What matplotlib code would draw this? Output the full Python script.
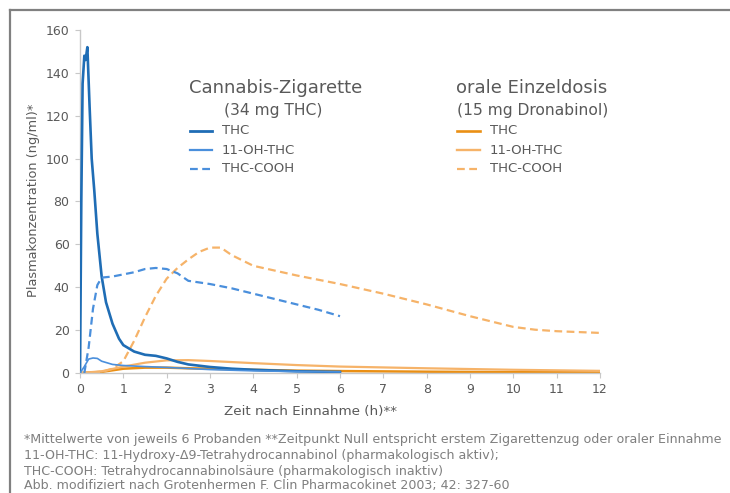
import matplotlib
matplotlib.use("Agg")
import matplotlib.pyplot as plt
from matplotlib.lines import Line2D

# ---- data ----
cig_thc_t = [0, 0.03, 0.06, 0.1, 0.13, 0.17, 0.22, 0.27, 0.33, 0.4, 0.5, 0.6, 0.75, 0.9, 1.0, 1.25, 1.5, 1.75, 2.0, 2.25, 2.5, 3.0, 3.5, 4.0, 5.0, 6.0]
cig_thc_v = [0, 80, 135, 148, 146, 152, 125, 100, 85, 65, 45, 33, 23, 16, 13, 10, 8.5, 8, 6.8, 5.2, 4, 2.8, 2.0, 1.5, 0.8, 0.5]

cig_oh_t = [0, 0.1, 0.2, 0.3, 0.4, 0.5, 0.75, 1.0, 1.5, 2.0, 3.0, 4.0, 5.0, 6.0]
cig_oh_v = [0, 3, 6.5, 7, 6.8, 5.5, 4, 3.5, 3, 2.6, 1.6, 1, 0.7, 0.5]

cig_cooh_t = [0.1, 0.2, 0.3, 0.4, 0.5, 0.75, 1.0, 1.25, 1.5, 1.75, 2.0, 2.25, 2.5, 3.0, 3.5, 4.0, 4.5, 5.0, 5.5, 6.0]
cig_cooh_v = [0, 12, 30, 41, 44.5, 45, 46, 47, 48.5, 49, 48.5, 46.5, 43, 41.5, 39.5, 37, 34.5, 32, 29.5, 26.5]

oral_thc_t = [0, 0.5, 1, 1.5, 2, 2.5, 3, 4, 5, 6, 8, 10, 12]
oral_thc_v = [0, 0.5, 2, 2.5, 2.5, 2.2, 2, 1.5, 1.1, 0.9, 0.6, 0.4, 0.3]

oral_oh_t = [0, 0.5, 1, 1.5, 2, 2.5, 3, 4, 5, 6, 8, 10, 12]
oral_oh_v = [0, 0.8, 3, 4.8, 5.9, 6.0, 5.6, 4.6, 3.7, 3, 2.2, 1.5, 1]

oral_cooh_t = [0, 0.5, 0.75, 1, 1.25, 1.5, 1.75, 2, 2.25, 2.5, 2.75, 3, 3.25, 3.5, 4, 5, 6, 7, 8, 9, 10, 10.5, 11, 12]
oral_cooh_v = [0, 0.5, 2, 5.5, 15, 26, 36, 44, 49, 53, 56.5, 58.5, 58.5, 55, 50, 45.5, 41.5, 37, 32, 26.5, 21.5, 20.2, 19.5, 18.7]

x_ticks = list(range(0, 13))
y_ticks = list(range(0, 161, 20))

# ---- styles ----
DARK_BLUE = "#1f6db5"
BLUE = "#4a8fdc"
DARK_OR = "#ea8f14"
LIGHT_OR = "#f6b369"
GRAY = "#595959"
FOOT = "#7f7f7f"

W, H = 730, 493
plt.rcParams['font.family'] = ['DejaVu Sans']
fig = plt.figure(figsize=(W / 100, H / 100), dpi=100)

def fx(x):
    return x / W

def fy(y):
    return 1 - y / H

ax = fig.add_axes([fx(80), fy(373), (600 - 80) / W, (373 - 30) / H])

dash = (3.5, 2.0)
ax.plot(oral_thc_t, oral_thc_v, color=DARK_OR, lw=1.8, zorder=2)
ax.plot(oral_oh_t, oral_oh_v, color=LIGHT_OR, lw=1.6, zorder=2)
ax.plot(oral_cooh_t, oral_cooh_v, color=LIGHT_OR, lw=1.6, dashes=dash, zorder=2)
ax.plot(cig_thc_t, cig_thc_v, color=DARK_BLUE, lw=1.9, zorder=3)
ax.plot(cig_oh_t, cig_oh_v, color=BLUE, lw=1.2, zorder=3)
ax.plot(cig_cooh_t, cig_cooh_v, color=BLUE, lw=1.6, dashes=dash, zorder=3)

ax.set_xlim(0, 12)
ax.set_ylim(0, 160)
ax.set_xticks(x_ticks)
ax.set_yticks(y_ticks)
for s in ["top", "right"]:
    ax.spines[s].set_visible(False)
for s in ["left", "bottom"]:
    ax.spines[s].set_color("#c8c8c8")
    ax.spines[s].set_linewidth(1.0)
ax.tick_params(colors="#c8c8c8", labelcolor=GRAY, labelsize=9, length=3.5, width=0.8, pad=4)
ax.patch.set_alpha(0)
for lab in ax.get_xticklabels() + ax.get_yticklabels():
    lab.set_color(GRAY)

fig.text(fx(310), fy(412), "Zeit nach Einnahme (h)**", ha="center", va="center", fontsize=9.7, color=GRAY)
fig.text(fx(34), fy(200), "Plasmakonzentration (ng/ml)*", ha="center", va="center", rotation=90, fontsize=9.3, color=GRAY)

# legend blocks
fig.text(fx(189), fy(88), "Cannabis-Zigarette", ha="left", va="center", fontsize=13, color=GRAY)
fig.text(fx(273), fy(110), "(34 mg THC)", ha="center", va="center", fontsize=11.2, color=GRAY)
fig.text(fx(456), fy(88), "orale Einzeldosis", ha="left", va="center", fontsize=13, color=GRAY)
fig.text(fx(457), fy(110), "(15 mg Dronabinol)", ha="left", va="center", fontsize=11.2, color=GRAY)

labels = ["THC", "11-OH-THC", "THC-COOH"]
rows = [131, 150, 169]
cig_styles = [(DARK_BLUE, 2.0, None), (BLUE, 1.6, None), (BLUE, 1.6, dash)]
oral_styles = [(DARK_OR, 1.9, None), (LIGHT_OR, 1.7, None), (LIGHT_OR, 1.6, dash)]
for (x0, x1, xt, styles) in [(190, 212, 222, cig_styles), (457, 480, 490, oral_styles)]:
    for lab, yy, (c, lw, d) in zip(labels, rows, styles):
        ln = Line2D([fx(x0), fx(x1)], [fy(yy), fy(yy)], transform=fig.transFigure, color=c, lw=lw)
        if d is not None:
            ln.set_dashes(d)
        fig.add_artist(ln)
        fig.text(fx(xt), fy(yy), lab, ha="left", va="center", fontsize=9.5, color=GRAY)

# footnotes
foot = [
    (440, "*Mittelwerte von jeweils 6 Probanden **Zeitpunkt Null entspricht erstem Zigarettenzug oder oraler Einnahme"),
    (456, "11-OH-THC: 11-Hydroxy-Δ9-Tetrahydrocannabinol (pharmakologisch aktiv);"),
    (471, "THC-COOH: Tetrahydrocannabinolsäure (pharmakologisch inaktiv)"),
    (486, "Abb. modifiziert nach Grotenhermen F. Clin Pharmacokinet 2003; 42: 327-60"),
]
for yy, t in foot:
    fig.text(fx(24), fy(yy), t, ha="left", va="center", fontsize=9.1, color=FOOT)

# outer frame (left and top edges)
fig.add_artist(Line2D([fx(10), fx(10)], [fy(10), 0], transform=fig.transFigure, color="#808080", lw=1.6))
fig.add_artist(Line2D([fx(10), 1], [fy(10), fy(10)], transform=fig.transFigure, color="#808080", lw=1.6))

fig.savefig("out.png", dpi=100)
